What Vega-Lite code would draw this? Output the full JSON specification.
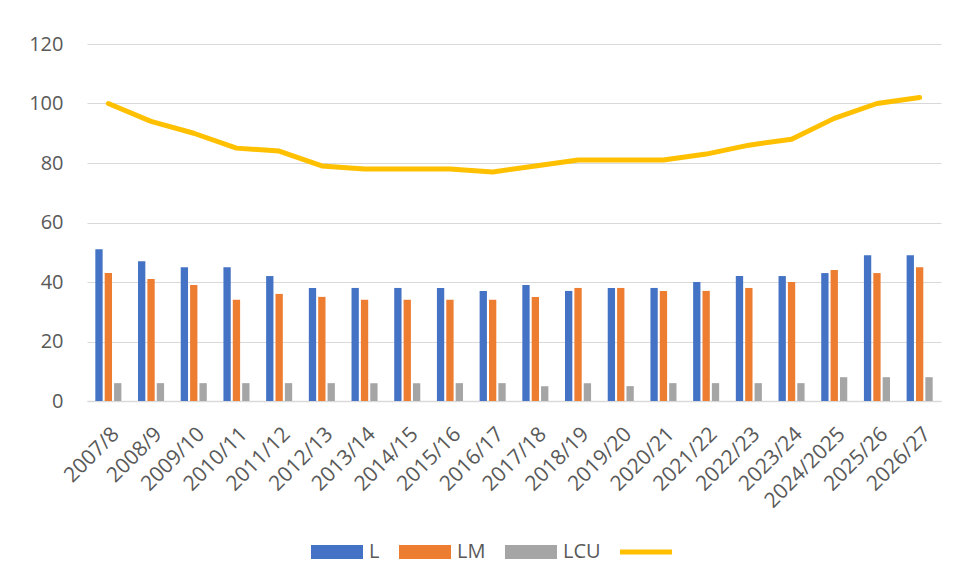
{
  "$schema": "https://vega.github.io/schema/vega-lite/v6.json",
  "width": 854,
  "height": 357,
  "autosize": {"type": "none"},
  "padding": {"left": 87, "top": 44, "right": 14, "bottom": 180},
  "background": "white",
  "config": {
    "view": {"stroke": null},
    "font": "Open Sans",
    "axis": {"labelFont": "Open Sans", "labelFontSize": 20, "labelColor": "#595959", "ticks": false, "title": null},
    "legend": {"labelFont": "Open Sans"}
  },
  "datasets": {
    "bars": [
      {"year": "2007/8", "series": "L", "value": 51}, {"year": "2007/8", "series": "LM", "value": 43}, {"year": "2007/8", "series": "LCU", "value": 6},
      {"year": "2008/9", "series": "L", "value": 47}, {"year": "2008/9", "series": "LM", "value": 41}, {"year": "2008/9", "series": "LCU", "value": 6},
      {"year": "2009/10", "series": "L", "value": 45}, {"year": "2009/10", "series": "LM", "value": 39}, {"year": "2009/10", "series": "LCU", "value": 6},
      {"year": "2010/11", "series": "L", "value": 45}, {"year": "2010/11", "series": "LM", "value": 34}, {"year": "2010/11", "series": "LCU", "value": 6},
      {"year": "2011/12", "series": "L", "value": 42}, {"year": "2011/12", "series": "LM", "value": 36}, {"year": "2011/12", "series": "LCU", "value": 6},
      {"year": "2012/13", "series": "L", "value": 38}, {"year": "2012/13", "series": "LM", "value": 35}, {"year": "2012/13", "series": "LCU", "value": 6},
      {"year": "2013/14", "series": "L", "value": 38}, {"year": "2013/14", "series": "LM", "value": 34}, {"year": "2013/14", "series": "LCU", "value": 6},
      {"year": "2014/15", "series": "L", "value": 38}, {"year": "2014/15", "series": "LM", "value": 34}, {"year": "2014/15", "series": "LCU", "value": 6},
      {"year": "2015/16", "series": "L", "value": 38}, {"year": "2015/16", "series": "LM", "value": 34}, {"year": "2015/16", "series": "LCU", "value": 6},
      {"year": "2016/17", "series": "L", "value": 37}, {"year": "2016/17", "series": "LM", "value": 34}, {"year": "2016/17", "series": "LCU", "value": 6},
      {"year": "2017/18", "series": "L", "value": 39}, {"year": "2017/18", "series": "LM", "value": 35}, {"year": "2017/18", "series": "LCU", "value": 5},
      {"year": "2018/19", "series": "L", "value": 37}, {"year": "2018/19", "series": "LM", "value": 38}, {"year": "2018/19", "series": "LCU", "value": 6},
      {"year": "2019/20", "series": "L", "value": 38}, {"year": "2019/20", "series": "LM", "value": 38}, {"year": "2019/20", "series": "LCU", "value": 5},
      {"year": "2020/21", "series": "L", "value": 38}, {"year": "2020/21", "series": "LM", "value": 37}, {"year": "2020/21", "series": "LCU", "value": 6},
      {"year": "2021/22", "series": "L", "value": 40}, {"year": "2021/22", "series": "LM", "value": 37}, {"year": "2021/22", "series": "LCU", "value": 6},
      {"year": "2022/23", "series": "L", "value": 42}, {"year": "2022/23", "series": "LM", "value": 38}, {"year": "2022/23", "series": "LCU", "value": 6},
      {"year": "2023/24", "series": "L", "value": 42}, {"year": "2023/24", "series": "LM", "value": 40}, {"year": "2023/24", "series": "LCU", "value": 6},
      {"year": "2024/2025", "series": "L", "value": 43}, {"year": "2024/2025", "series": "LM", "value": 44}, {"year": "2024/2025", "series": "LCU", "value": 8},
      {"year": "2025/26", "series": "L", "value": 49}, {"year": "2025/26", "series": "LM", "value": 43}, {"year": "2025/26", "series": "LCU", "value": 8},
      {"year": "2026/27", "series": "L", "value": 49}, {"year": "2026/27", "series": "LM", "value": 45}, {"year": "2026/27", "series": "LCU", "value": 8}
    ],
    "index": [
      {"year": "2007/8", "series": "Index", "value": 100},
      {"year": "2008/9", "series": "Index", "value": 94},
      {"year": "2009/10", "series": "Index", "value": 90},
      {"year": "2010/11", "series": "Index", "value": 85},
      {"year": "2011/12", "series": "Index", "value": 84},
      {"year": "2012/13", "series": "Index", "value": 79},
      {"year": "2013/14", "series": "Index", "value": 78},
      {"year": "2014/15", "series": "Index", "value": 78},
      {"year": "2015/16", "series": "Index", "value": 78},
      {"year": "2016/17", "series": "Index", "value": 77},
      {"year": "2017/18", "series": "Index", "value": 79},
      {"year": "2018/19", "series": "Index", "value": 81},
      {"year": "2019/20", "series": "Index", "value": 81},
      {"year": "2020/21", "series": "Index", "value": 81},
      {"year": "2021/22", "series": "Index", "value": 83},
      {"year": "2022/23", "series": "Index", "value": 86},
      {"year": "2023/24", "series": "Index", "value": 88},
      {"year": "2024/2025", "series": "Index", "value": 95},
      {"year": "2025/26", "series": "Index", "value": 100},
      {"year": "2026/27", "series": "Index", "value": 102}
    ]
  },
  "encoding": {
    "x": {
      "field": "year", "type": "nominal", "sort": null,
      "scale": {"paddingInner": 0.39, "paddingOuter": 0.195},
      "axis": {"labelAngle": -45, "labelFontSize": 21, "labelPadding": 22, "domainColor": "#D9D9D9", "domainWidth": 1.5, "grid": false}
    },
    "y": {
      "field": "value", "type": "quantitative",
      "scale": {"domain": [0, 120], "nice": false},
      "axis": {"values": [0, 20, 40, 60, 80, 100, 120], "domain": false, "grid": true, "gridColor": "#D9D9D9", "gridWidth": 1.2, "labelPadding": 24}
    },
    "color": {
      "field": "series", "type": "nominal",
      "scale": {"domain": ["L", "LM", "LCU", "Index"], "range": ["#4472C4", "#ED7D31", "#A5A5A5", "#FFC000"]},
      "legend": {
        "title": null,
        "orient": "none",
        "direction": "horizontal",
        "legendX": 224,
        "legendY": 482,
        "padding": 0,
        "symbolSize": 2704,
        "symbolType": "M-1,-0.27H1V0.27H-1Z",
        "symbolStrokeWidth": 0,
        "labelFontSize": 20,
        "labelColor": "#595959",
        "labelOffset": 6,
        "columnPadding": 19,
        "labelExpr": "datum.label === 'Index' ? '' : datum.label",
        "encode": {
          "symbols": {
            "update": {
              "shape": {"signal": "datum.value === 'Index' ? 'M-1,-0.1H1V0.1H-1Z' : 'M-1,-0.27H1V0.27H-1Z'"},
              "fill": {"scale": "color", "field": "value"},
              "stroke": {"value": "transparent"},
              "strokeWidth": {"value": 0},
              "opacity": {"value": 1},
              "fillOpacity": {"value": 1}
            }
          }
        }
      }
    }
  },
  "layer": [
    {
      "data": {"name": "bars"},
      "mark": {"type": "bar"},
      "encoding": {
        "xOffset": {"field": "series", "type": "nominal", "sort": ["L", "LM", "LCU"], "scale": {"domain": ["L", "LM", "LCU"], "paddingInner": 0.22, "paddingOuter": 0}}
      }
    },
    {
      "data": {"name": "index"},
      "mark": {"type": "line", "strokeWidth": 5, "strokeCap": "round", "strokeJoin": "round"},
      "encoding": {}
    }
  ]
}
